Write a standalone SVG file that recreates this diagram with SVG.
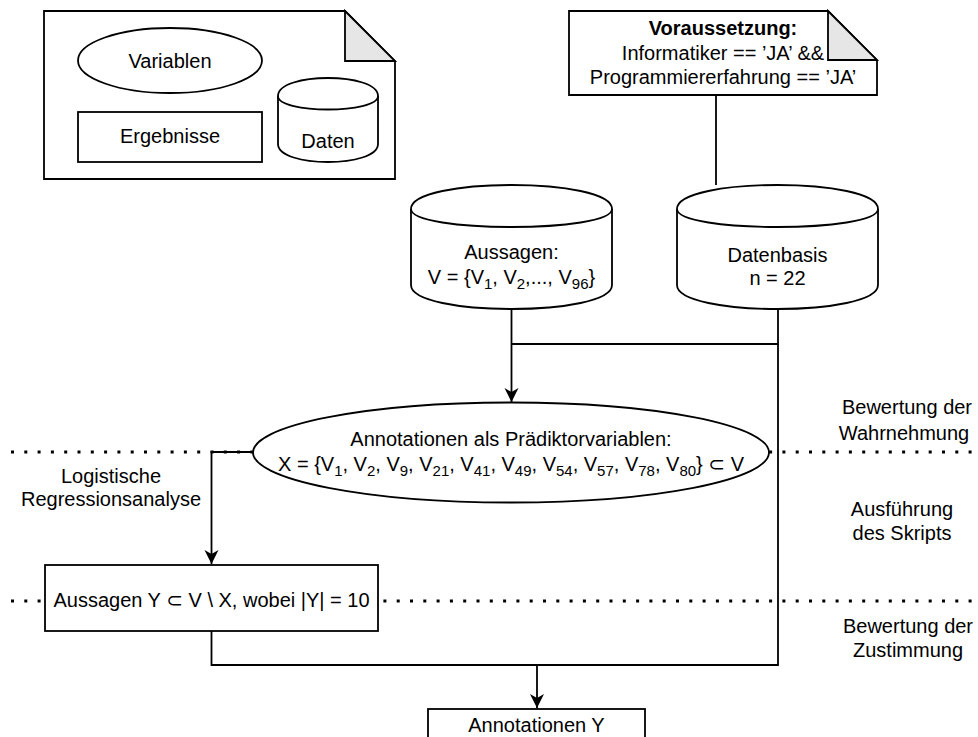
<svg xmlns="http://www.w3.org/2000/svg" width="978" height="737" viewBox="0 0 978 737">
  <style>
    .shape { fill: #ffffff; stroke: #000000; stroke-width: 1.8; }
    .fold { fill: #e6e6e6; stroke: #000000; stroke-width: 1.8; stroke-linejoin: miter; }
    .edge { fill: none; stroke: #000000; stroke-width: 1.8; }
    .dots { fill: none; stroke: #000000; stroke-width: 3; stroke-dasharray: 3 10.3; }
    text { font-family: "Liberation Sans", Arial, "DejaVu Sans", sans-serif; font-size: 20px; fill: #000000; text-anchor: middle; }
    .b { font-weight: bold; }
    .sub { font-size: 15px; }
    .sym { font-family: "DejaVu Sans", sans-serif; }
  </style>
  <defs>
    <marker id="arrow" markerUnits="userSpaceOnUse" markerWidth="16" markerHeight="16" viewBox="0 0 16 16" refX="14" refY="7" orient="auto">
      <path d="M0,0 L14,7 L0,14 L4,7 Z" fill="#000000"/>
    </marker>
  </defs>

  <rect width="978" height="737" fill="#ffffff"/>

  <!-- phase separators -->
  <g id="separators">
    <line class="dots" x1="11" y1="452" x2="978" y2="452"/>
    <line class="dots" x1="11" y1="601" x2="978" y2="601"/>
  </g>

  <!-- connectors -->
  <g id="connectors">
    <path class="edge" d="M716,95 L716,185"/>
    <path class="edge" d="M511.5,309 L511.5,402" marker-end="url(#arrow)"/>
    <path class="edge" d="M778,309 L778,344 L511.5,344"/>
    <path class="edge" d="M778,344 L778,665 L537,665"/>
    <path class="edge" d="M253,452 L211.5,452 L211.5,564" marker-end="url(#arrow)"/>
    <path class="edge" d="M211.5,631 L211.5,665 L537,665 L537,708" marker-end="url(#arrow)"/>
  </g>

  <!-- legend note -->
  <g id="legend">
    <path class="shape" d="M44,11 L345,11 L395,61 L395,179 L44,179 Z"/>
    <path class="fold" d="M345,11 L345,61 L395,61 Z"/>
    <g id="legend-variablen">
      <ellipse class="shape" cx="170" cy="60.5" rx="92" ry="32.5"/>
      <text x="170" y="68">Variablen</text>
    </g>
    <g id="legend-ergebnisse">
      <rect class="shape" x="78" y="112" width="184" height="50"/>
      <text x="170" y="143">Ergebnisse</text>
    </g>
    <g id="legend-daten">
      <path class="shape" d="M278,96 C278,72 378,72 378,96 L378,144 C378,168 278,168 278,144 Z"/>
      <path class="edge" d="M278,96 C278,114 378,114 378,96"/>
      <text x="328" y="148">Daten</text>
    </g>
  </g>

  <!-- precondition note -->
  <g id="voraussetzung">
    <path class="shape" d="M569,11 L828,11 L877,60 L877,95 L569,95 Z"/>
    <path class="fold" d="M828,11 L828,60 L877,60 Z"/>
    <text x="723" y="35" class="b">Voraussetzung:</text>
    <text x="723" y="60">Informatiker == ’JA’ &amp;&amp;</text>
    <text x="723" y="84">Programmiererfahrung == ’JA’</text>
  </g>

  <!-- statements store -->
  <g id="aussagen">
    <path class="shape" d="M411,209 C411,177 612,177 612,209 L612,285 C612,317 411,317 411,285 Z"/>
    <path class="edge" d="M411,209 C411,233 612,233 612,209"/>
    <text x="511.5" y="259">Aussagen:</text>
    <text x="511.5" y="284">V = {V<tspan class="sub" dy="5">1</tspan><tspan dy="-5">, V</tspan><tspan class="sub" dy="5">2</tspan><tspan dy="-5">,..., V</tspan><tspan class="sub" dy="5">96</tspan><tspan dy="-5">}</tspan></text>
  </g>

  <!-- data store -->
  <g id="datenbasis">
    <path class="shape" d="M677,209 C677,177 878,177 878,209 L878,285 C878,317 677,317 677,285 Z"/>
    <path class="edge" d="M677,209 C677,233 878,233 878,209"/>
    <text x="777.5" y="262">Datenbasis</text>
    <text x="777.5" y="285">n = 22</text>
  </g>

  <!-- predictor annotations -->
  <g id="praediktoren">
    <ellipse class="shape" cx="511" cy="452.5" rx="258" ry="50"/>
    <text x="511" y="446">Annotationen als Prädiktorvariablen:</text>
    <text x="511" y="471">X = {V<tspan class="sub" dy="5">1</tspan><tspan dy="-5">, V</tspan><tspan class="sub" dy="5">2</tspan><tspan dy="-5">, V</tspan><tspan class="sub" dy="5">9</tspan><tspan dy="-5">, V</tspan><tspan class="sub" dy="5">21</tspan><tspan dy="-5">, V</tspan><tspan class="sub" dy="5">41</tspan><tspan dy="-5">, V</tspan><tspan class="sub" dy="5">49</tspan><tspan dy="-5">, V</tspan><tspan class="sub" dy="5">54</tspan><tspan dy="-5">, V</tspan><tspan class="sub" dy="5">57</tspan><tspan dy="-5">, V</tspan><tspan class="sub" dy="5">78</tspan><tspan dy="-5">, V</tspan><tspan class="sub" dy="5">80</tspan><tspan dy="-5">} </tspan><tspan class="sym">⊂</tspan> V</text>
  </g>

  <!-- edge label -->
  <g id="label-regression">
    <text x="111" y="483">Logistische</text>
    <text x="111" y="506">Regressionsanalyse</text>
  </g>

  <!-- remaining statements -->
  <g id="aussagen-y">
    <rect class="shape" x="45" y="565" width="333" height="66"/>
    <text x="211.5" y="607">Aussagen Y <tspan class="sym">⊂</tspan> V \ X, wobei |Y| = 10</text>
  </g>

  <!-- resulting annotations -->
  <g id="annotationen-y">
    <rect class="shape" x="428" y="709" width="217" height="40"/>
    <text x="536.5" y="732">Annotationen Y</text>
  </g>

  <!-- phase labels -->
  <g id="phase-labels">
    <text x="907" y="414">Bewertung der</text>
    <text x="904" y="440">Wahrnehmung</text>
    <text x="902" y="516">Ausführung</text>
    <text x="902" y="540">des Skripts</text>
    <text x="908" y="633">Bewertung der</text>
    <text x="908" y="657">Zustimmung</text>
  </g>
</svg>
